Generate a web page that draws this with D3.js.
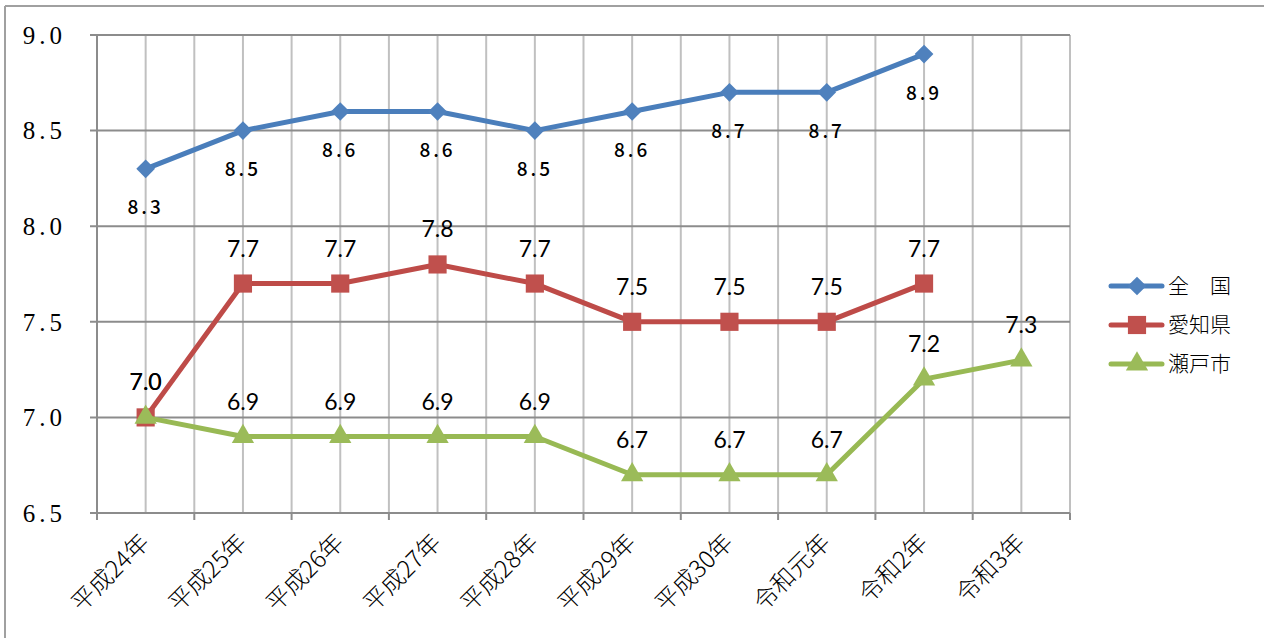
<!DOCTYPE html>
<html>
<head>
<meta charset="utf-8">
<script src="https://cdn.jsdelivr.net/npm/d3@7"></script>
<style>
  html, body { margin: 0; padding: 0; background: #fff; }
  svg { display: block; }
</style>
</head>
<body>
<svg id="chart" width="1264" height="638"></svg>
<script>
const categories = ["平成24年","平成25年","平成26年","平成27年","平成28年","平成29年","平成30年","令和元年","令和2年","令和3年"];
const zenkoku = [8.3, 8.5, 8.6, 8.6, 8.5, 8.6, 8.7, 8.7, 8.9, null];
const aichi   = [7.0, 7.7, 7.7, 7.8, 7.7, 7.5, 7.5, 7.5, 7.7, null];
const seto    = [7.0, 6.9, 6.9, 6.9, 6.9, 6.7, 6.7, 6.7, 7.2, 7.3];
const yTicks  = [6.5, 7.0, 7.5, 8.0, 8.5, 9.0];
const seriesNames = ["全　国", "愛知県", "瀬戸市"];

const series = [
  { name: seriesNames[0], values: zenkoku, line: "#4A7EBB", fill: "#4F81BD", symbol: d3.symbolSquare, size: 175, rot: 45, labelPos: "below", labelClass: "gothic" },
  { name: seriesNames[1], values: aichi,   line: "#BE4B48", fill: "#C0504D", symbol: d3.symbolSquare, size: 330, rot: 0, labelPos: "above", labelClass: "calibri" },
  { name: seriesNames[2], values: seto,    line: "#98B954", fill: "#9BBB59", symbol: d3.symbolTriangle, size: 215, rot: 0, labelPos: "above", labelClass: "calibri" }
];

const svg = d3.select("#chart");
const L = 97, R = 1070, T = 35, B = 513;

// outer frame (top + left)
svg.append("line").attr("x1", 5).attr("x2", 1264).attr("y1", 6).attr("y2", 6).attr("stroke", "#a0a0a0").attr("stroke-width", 2);
svg.append("line").attr("x1", 5).attr("x2", 5).attr("y1", 6).attr("y2", 638).attr("stroke", "#a0a0a0").attr("stroke-width", 2);

const x = d3.scaleBand().domain(categories).range([L, R]).paddingInner(0).paddingOuter(0);
const xc = d => x(d) + x.bandwidth() / 2;
const y = d3.scaleLinear().domain([6.5, 9.0]).range([B, T]);

// vertical gridlines (band edges and centers)
const g = svg.append("g");
categories.forEach((c, i) => {
  if (i > 0) g.append("line").attr("x1", x(c)).attr("x2", x(c)).attr("y1", T).attr("y2", B).attr("stroke", "#c0c0c0").attr("stroke-width", 2);
  g.append("line").attr("x1", xc(c)).attr("x2", xc(c)).attr("y1", T).attr("y2", B).attr("stroke", "#c0c0c0").attr("stroke-width", 2);
});
g.append("line").attr("x1", R).attr("x2", R).attr("y1", T).attr("y2", B).attr("stroke", "#c0c0c0").attr("stroke-width", 2);

// horizontal gridlines
yTicks.forEach(t => {
  g.append("line").attr("x1", L - 7).attr("x2", R).attr("y1", y(t)).attr("y2", y(t)).attr("stroke", "#8c8c8c").attr("stroke-width", 2);
});

// y axis line
g.append("line").attr("x1", L).attr("x2", L).attr("y1", T).attr("y2", B + 7).attr("stroke", "#8c8c8c").attr("stroke-width", 2);

// x tick marks at band edges
categories.forEach((c, i) => {
  if (i > 0) g.append("line").attr("x1", x(c)).attr("x2", x(c)).attr("y1", B).attr("y2", B + 7).attr("stroke", "#8c8c8c").attr("stroke-width", 2);
});
g.append("line").attr("x1", R).attr("x2", R).attr("y1", B).attr("y2", B + 7).attr("stroke", "#8c8c8c").attr("stroke-width", 2);

// y tick labels
svg.append("g").selectAll("text").data(yTicks).join("text")
  .attr("x", 66).attr("y", d => y(d)).attr("dy", "0.35em")
  .attr("text-anchor", "end")
  .attr("font-family", "'Liberation Serif', 'DejaVu Serif', serif")
  .attr("font-size", 25).attr("letter-spacing", "4px").attr("fill", "#000")
  .text(d => d3.format(".1f")(d));

// x labels
svg.append("g").selectAll("text").data(categories).join("text")
  .attr("text-anchor", "end")
  .attr("transform", d => `translate(${xc(d) + 5},544) rotate(-45)`)
  .attr("font-family", "'Noto Sans CJK JP', sans-serif")
  .attr("font-size", 24).attr("font-weight", 300).attr("fill", "#000")
  .text(d => d);

// lines and markers
const line = d3.line().defined(d => d.v != null).x(d => xc(d.c)).y(d => y(d.v));
series.forEach(s => {
  const pts = s.values.map((v, i) => ({ c: categories[i], v }));
  svg.append("path").datum(pts).attr("d", line).attr("fill", "none")
    .attr("stroke", s.line).attr("stroke-width", 5).attr("stroke-linejoin", "round").attr("stroke-linecap", "round");
  svg.append("g").selectAll("path").data(pts.filter(d => d.v != null)).join("path")
    .attr("d", d3.symbol().type(s.symbol).size(s.size))
    .attr("transform", d => `translate(${xc(d.c)},${y(d.v)}) rotate(${s.rot})`)
    .attr("fill", s.fill);
});

// data labels
series.forEach(s => {
  const pts = s.values.map((v, i) => ({ c: categories[i], v })).filter(d => d.v != null);
  const sel = svg.append("g").selectAll("text").data(pts).join("text")
    .attr("x", d => xc(d.c))
    .attr("y", d => y(d.v) + (s.labelPos === "below" ? 37 : -36))
    .attr("dominant-baseline", "central")
    .attr("text-anchor", "middle").attr("fill", "#000")
    .text(d => d3.format(".1f")(d.v));
  if (s.labelClass === "gothic") {
    sel.attr("font-family", "'Noto Sans CJK JP', sans-serif").attr("font-size", 19).attr("font-weight", 500).attr("letter-spacing", "3px");
  } else {
    sel.attr("font-family", "Lato, 'Open Sans', sans-serif").attr("font-size", 23);
  }
});

// legend
const legY = [286, 325, 364];
const lg = svg.append("g");
series.forEach((s, i) => {
  lg.append("line").attr("x1", 1111).attr("x2", 1162).attr("y1", legY[i]).attr("y2", legY[i])
    .attr("stroke", s.line).attr("stroke-width", 5).attr("stroke-linecap", "round");
  lg.append("path").attr("d", d3.symbol().type(s.symbol).size(s.size))
    .attr("transform", `translate(1137,${legY[i]}) rotate(${s.rot})`).attr("fill", s.fill);
  lg.append("text").attr("x", 1168).attr("y", legY[i]).attr("dy", "0.35em")
    .attr("font-family", "'Noto Sans CJK JP', sans-serif").attr("font-size", 21).attr("font-weight", 300).attr("fill", "#000")
    .text(s.name);
});
</script>
</body>
</html>
